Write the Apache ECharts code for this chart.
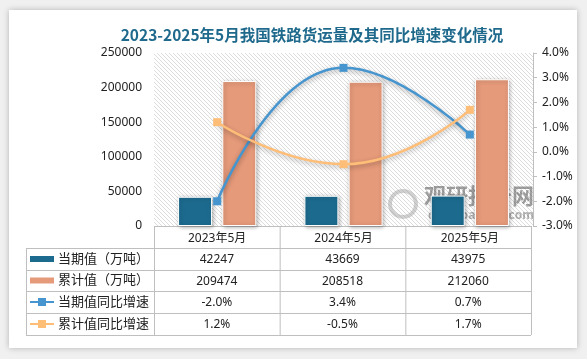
<!DOCTYPE html>
<html><head><meta charset="utf-8">
<script src="https://cdn.jsdelivr.net/npm/echarts@6/dist/echarts.min.js"></script>
<style>
html,body{margin:0;padding:0;background:#f0f0f0;}
#card{position:absolute;left:9px;top:10px;width:568px;height:338px;background:#fff;box-shadow:0 0 6px rgba(0,0,0,0.25);}
#main{position:absolute;left:0;top:0;width:587px;height:359px;}
</style></head>
<body>
<div id="card"></div>
<div id="main"></div>
<script>
var categories = ['2023年5月', '2024年5月', '2025年5月'];
var currentValue = [42247, 43669, 43975];
var cumulativeValue = [209474, 208518, 212060];
var currentYoY = [-2.0, 3.4, 0.7];
var cumulativeYoY = [1.2, -0.5, 1.7];
var seriesNames = ['当期值（万吨）', '累计值（万吨）', '当期值同比增速', '累计值同比增速'];

var FONT = '"Noto Sans", "Noto Sans CJK SC", sans-serif';
var C_DARK = '#1c6b8f', C_ORANGE = '#e59a7a', C_BLUE = '#4695cf', C_YEL = '#ffbe78';

// layout
var G = {left: 154, right: 533, top: 53, bottom: 226};
var rowTops = [248, 270, 291, 313, 335];
var legendLeft = 26;

// hatch pattern
var pc = document.createElement('canvas');
pc.width = 4; pc.height = 4;
var pctx = pc.getContext('2d');
pctx.fillStyle = '#ffffff'; pctx.fillRect(0, 0, 4, 4);
pctx.fillStyle = '#dcdcdc';
for (var k = 0; k < 4; k++) pctx.fillRect(k, k, 1, 1);

var chart = echarts.init(document.getElementById('main'), null, {renderer: 'canvas'});

var graphics = [];
graphics.push({type: 'rect', silent: true, z: -10, shape: {x: G.left, y: G.top, width: G.right - G.left, height: G.bottom - G.top}, style: {fill: {image: pc, repeat: 'repeat'}}});
var lineColor = '#bfbfbf';
function hline(x1, x2, y) {
  graphics.push({type: 'line', silent: true, shape: {x1: x1, y1: y + 0.5, x2: x2, y2: y + 0.5}, style: {stroke: lineColor, lineWidth: 1}});
}
function vline(x, y1, y2) {
  graphics.push({type: 'line', silent: true, shape: {x1: x + 0.5, y1: y1, x2: x + 0.5, y2: y2}, style: {stroke: lineColor, lineWidth: 1}});
}
var n = categories.length;
var colW = (G.right - 2 - G.left) / n;
for (var i = 0; i <= n; i++) vline(G.left + i * colW, G.bottom, rowTops[rowTops.length - 1]);
vline(legendLeft, rowTops[0], rowTops[rowTops.length - 1]);
hline(G.left, G.right - 2, G.bottom);
for (var r = 0; r < rowTops.length; r++) hline(legendLeft, G.right - 2, rowTops[r]);

var rowsData = [
  currentValue.map(function (v) { return String(v); }),
  cumulativeValue.map(function (v) { return String(v); }),
  currentYoY.map(function (v) { return v.toFixed(1) + '%'; }),
  cumulativeYoY.map(function (v) { return v.toFixed(1) + '%'; })
];
var iconColors = [C_DARK, C_ORANGE, C_BLUE, C_YEL];
for (var r = 0; r < 4; r++) {
  var yc = (rowTops[r] + rowTops[r + 1]) / 2;
  if (r < 2) {
    graphics.push({type: 'rect', silent: true, shape: {x: 30, y: yc - 3, width: 24, height: 6}, style: {fill: iconColors[r]}});
  } else {
    graphics.push({type: 'line', silent: true, shape: {x1: 30, y1: yc, x2: 54, y2: yc}, style: {stroke: iconColors[r], lineWidth: 2}});
    graphics.push({type: 'rect', silent: true, shape: {x: 38, y: yc - 4, width: 8, height: 8}, style: {fill: iconColors[r]}});
  }
  graphics.push({type: 'text', silent: true, x: 58, y: yc, style: {text: seriesNames[r], font: '13px ' + FONT, fill: '#222', textVerticalAlign: 'middle', verticalAlign: 'middle'}});
  for (var c = 0; c < n; c++) {
    graphics.push({type: 'text', silent: true, x: G.left + (c + 0.5) * colW, y: yc + 1, style: {text: rowsData[r][c], font: '12px ' + FONT, fill: '#222', align: 'center', textAlign: 'center', verticalAlign: 'middle', textVerticalAlign: 'middle'}});
  }
}
// watermark
graphics.push({type: 'text', silent: true, x: 424, y: 196, style: {text: '观研报告网', font: 'bold 22px "Noto Sans CJK SC"', fill: 'rgba(80,80,80,0.55)', verticalAlign: 'middle', textVerticalAlign: 'middle'}});
graphics.push({type: 'text', silent: true, x: 428, y: 216, style: {text: 'chinabaogao.com', font: 'bold 12px ' + FONT, fill: 'rgba(80,80,80,0.45)', verticalAlign: 'middle', textVerticalAlign: 'middle'}});
graphics.push({type: 'circle', silent: true, shape: {cx: 403, cy: 204, r: 13}, style: {fill: 'none', stroke: 'rgba(150,150,150,0.45)', lineWidth: 4}});

var option = {
  animation: false,
  title: {
    text: '2023-2025年5月我国铁路货运量及其同比增速变化情况',
    left: 307, top: 22, textAlign: 'center',
    textStyle: {fontFamily: '"Noto Sans CJK SC", sans-serif', fontSize: 15.5, fontWeight: 'bold', color: '#1f6a8c'}
  },
  grid: {
    left: G.left, right: 587 - G.right, top: G.top, bottom: 359 - G.bottom,
    show: false
  },
  xAxis: {
    type: 'category', data: categories,
    axisLine: {show: false}, axisTick: {show: false},
    axisLabel: {color: '#222', fontSize: 12, fontFamily: FONT, margin: 7}
  },
  yAxis: [{
    type: 'value', min: 0, max: 250000, interval: 50000,
    axisLine: {show: false}, axisTick: {show: false}, splitLine: {show: false},
    axisLabel: {color: '#222', fontSize: 12, fontFamily: FONT, margin: 12, formatter: function (v) { return String(v); }}
  }, {
    type: 'value', min: -3, max: 4, interval: 1, position: 'right',
    axisLine: {show: true, lineStyle: {color: '#bfbfbf'}},
    axisTick: {show: true, length: 4, lineStyle: {color: '#bfbfbf'}},
    splitLine: {show: false},
    axisLabel: {color: '#222', fontSize: 12, fontFamily: FONT, margin: 9, formatter: function (v) { return v.toFixed(1) + '%'; }}
  }],
  series: [{
    name: seriesNames[0], type: 'bar', data: currentValue, barWidth: 34, barGap: '30%',
    itemStyle: {color: C_DARK, borderColor: '#fff', borderWidth: 1, shadowBlur: 4, shadowColor: 'rgba(0,0,0,0.3)', shadowOffsetX: 1, shadowOffsetY: 1}
  }, {
    name: seriesNames[1], type: 'bar', data: cumulativeValue, barWidth: 34,
    itemStyle: {color: C_ORANGE, borderColor: '#fff', borderWidth: 1, shadowBlur: 4, shadowColor: 'rgba(0,0,0,0.3)', shadowOffsetX: 1, shadowOffsetY: 1}
  }, {
    name: seriesNames[2], type: 'line', yAxisIndex: 1, data: currentYoY, smooth: 0.5,
    symbol: 'rect', symbolSize: 8,
    lineStyle: {color: C_BLUE, width: 2.5, shadowBlur: 5, shadowColor: 'rgba(0,0,0,0.35)', shadowOffsetY: 2},
    itemStyle: {color: C_BLUE}
  }, {
    name: seriesNames[3], type: 'line', yAxisIndex: 1, data: cumulativeYoY, smooth: 0.5,
    symbol: 'rect', symbolSize: 8,
    lineStyle: {color: C_YEL, width: 2.5, shadowBlur: 5, shadowColor: 'rgba(0,0,0,0.3)', shadowOffsetY: 2},
    itemStyle: {color: C_YEL}
  }],
  graphic: graphics
};
chart.setOption(option);
</script>
</body></html>
